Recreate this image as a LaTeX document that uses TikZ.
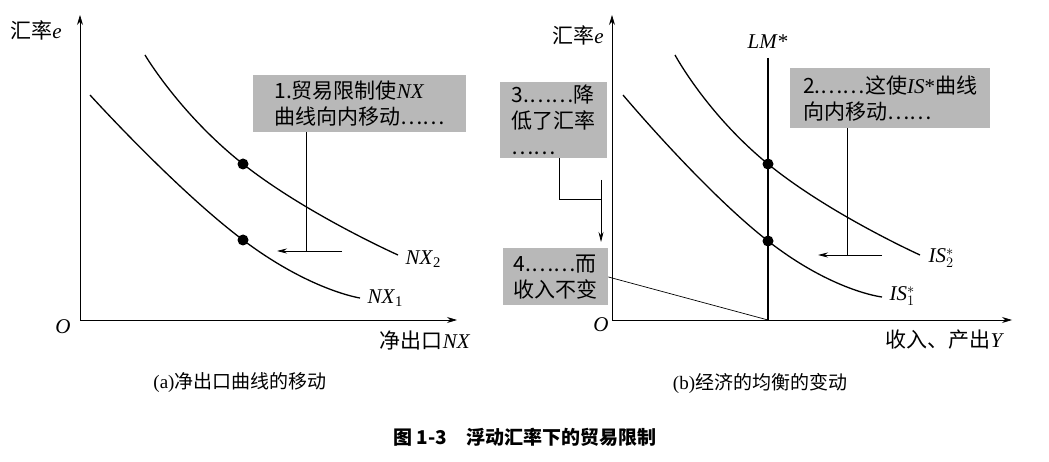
\documentclass[tikz,border=0pt]{standalone}
\usepackage{fontspec}
\setmainfont{Liberation Serif}
\newfontfamily\cjk{Noto Sans CJK SC}
\usetikzlibrary{arrows.meta}
\begin{document}
\begin{tikzpicture}[x=1pt,y=-1pt,
  ax/.style={line width=0.8pt,-{Stealth[length=10pt,width=6pt]}},
  crv/.style={line width=1.3pt},
  thin/.style={line width=0.7pt},
  arr/.style={line width=0.7pt,-{Stealth[length=10pt,width=5pt]}},
  gbox/.style={fill=black!28,inner sep=3pt,align=left,font=\fontsize{21}{26}\selectfont},
  dot/.style={circle,fill=black,inner sep=0pt,minimum size=11pt},
  lab/.style={font=\fontsize{21}{24}\selectfont}]
\useasboundingbox (0,0) rectangle (1049,462);
% left panel
\coordinate (o1) at (80,320);
\coordinate (ytop1) at (80,15);
\coordinate (xend1) at (457,320);
\draw[ax] (o1) -- (ytop1);
\draw[ax] (o1) -- (xend1);
\node[lab] (ye1) at (36,30) {{\cjk 汇率}\textit{e}};
\node[lab] (O1) at (63,327) {\textit{O}};
\node[lab] (xl1) at (425,340) {{\cjk 净出口}\textit{NX}};
\draw[crv] plot[smooth,tension=0.9] coordinates {(145,55) (243,164) (398,255)};
\draw[crv] plot[smooth,tension=0.9] coordinates {(90,95) (243,240) (360,298)};
\node[dot] (d2) at (243,164) {};
\node[dot] (d1) at (243,240) {};
\node[lab,anchor=west] (nx2) at (402,259) {\textit{NX}\textsubscript{2}};
\node[lab,anchor=west] (nx1) at (364,298) {\textit{NX}\textsubscript{1}};
\node[gbox,minimum width=213pt,minimum height=57pt,anchor=north west] (b1) at (253,75) {{\cjk 1.贸易限制使}\textit{NX}\\{\cjk 曲线向内移动……}};
\coordinate (c1) at (306,251);
\coordinate (c1r) at (342,251);
\coordinate (c1l) at (277,251);
\draw[thin] (b1.south -| c1) -- (c1);
\draw[arr] (c1r) -- (c1l);
% right panel
\coordinate (o2) at (612,320);
\coordinate (ytop2) at (612,15);
\coordinate (xend2) at (1012,320);
\draw[ax] (o2) -- (ytop2);
\draw[ax] (o2) -- (xend2);
\node[lab] (ye2) at (578,35) {{\cjk 汇率}\textit{e}};
\node[lab] (O2) at (601,325) {\textit{O}};
\node[lab] (xl2) at (945,340) {{\cjk 收入、产出}\textit{Y}};
\coordinate (lmtop) at (768,58);
\coordinate (lmbot) at (768,320);
\draw[crv] (lmtop) -- (lmbot);
\node[lab] (lm) at (768,42) {\textit{LM}*};
\draw[crv] plot[smooth,tension=0.9] coordinates {(675,55) (768,164) (920,255)};
\draw[crv] plot[smooth,tension=0.9] coordinates {(623,95) (768,241) (882,297)};
\node[dot] (e2) at (768,164) {};
\node[dot] (e1) at (768,241) {};
\node[lab,anchor=west] (is2) at (925,258) {\textit{IS}$^{\ast}_{2}$};
\node[lab,anchor=west] (is1) at (886,296) {\textit{IS}$^{\ast}_{1}$};
\node[gbox,minimum width=200pt,minimum height=60pt,anchor=north west] (b2) at (790,68) {{\cjk 2.……这使}\textit{IS}*{\cjk 曲线}\\{\cjk 向内移动……}};
\coordinate (c2) at (847,255);
\draw[thin] (b2.south -| c2) -- (c2);
\draw[arr] (882,255) coordinate (c2r) -- (818,255) coordinate (c2l);
\node[gbox,minimum width=107pt,minimum height=76pt,anchor=north west] (b3) at (500,82) {{\cjk 3.……降}\\{\cjk 低了汇率}\\{\cjk ……}};
\coordinate (k1) at (559,199);
\coordinate (k2) at (601,199);
\coordinate (k3) at (601,180);
\coordinate (k4) at (601,242);
\draw[thin] (b3.south -| k1) -- (k1) -- (k2);
\draw[arr] (k3) -- (k4);
\node[gbox,minimum width=105pt,minimum height=57pt,anchor=north west] (b4) at (503,248) {{\cjk 4.……而}\\{\cjk 收入不变}};
\draw[thin] (b4.east |- 0,277) -- (lmbot);
% captions
\node[font=\fontsize{19}{22}\selectfont] (capa) at (240,383) {(a){\cjk 净出口曲线的移动}};
\node[font=\fontsize{19}{22}\selectfont] (capb) at (760,383) {(b){\cjk 经济的均衡的变动}};
\node[font=\fontsize{19}{22}\selectfont\bfseries] (cap) at (525,437) {{\cjk\bfseries 图 1-3\quad 浮动汇率下的贸易限制}};
\end{tikzpicture}
\end{document}
